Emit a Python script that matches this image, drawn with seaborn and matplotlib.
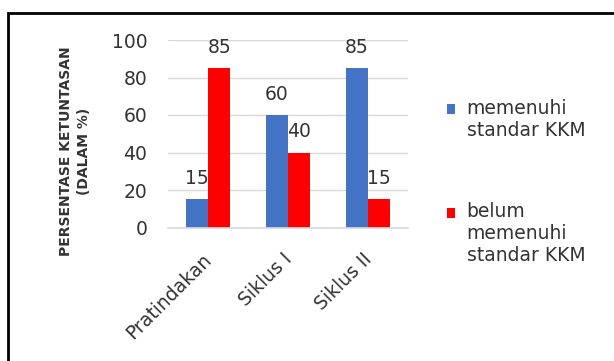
import matplotlib
matplotlib.use("Agg")
import matplotlib.pyplot as plt
import matplotlib.transforms as mtransforms
import seaborn as sns
import pandas as pd
from matplotlib.patches import Rectangle, Patch
from matplotlib.legend_handler import HandlerPatch

categories = ["Pratindakan", "Siklus I", "Siklus II"]
memenuhi = [15, 60, 85]
belum = [85, 40, 15]
series_names = ["memenuhi\nstandar KKM", "belum\nmemenuhi\nstandar KKM"]
colors = ["#4472C4", "#FF0000"]
yticks = [0, 20, 40, 60, 80, 100]

df = pd.DataFrame({
    "kategori": categories * 2,
    "nilai": memenuhi + belum,
    "seri": [series_names[0]] * 3 + [series_names[1]] * 3,
})

sns.set_theme(style="white")
plt.rcParams["font.family"] = ["DejaVu Sans"]
text_color = "#333333"
fs = 13.5

fig = plt.figure(figsize=(6.14, 3.61), dpi=100)
ax = fig.add_axes([168 / 614, 1 - 227.5 / 361, 240 / 614, 187.5 / 361])

sns.barplot(data=df, x="kategori", y="nilai", hue="seri", palette=colors,
            width=0.56, saturation=1, linewidth=0, ax=ax, legend=False)

ax.set_ylim(0, 100)
ax.set_yticks(yticks)
ax.yaxis.grid(True, color="#d9d9d9", linewidth=1.0)
ax.set_axisbelow(True)
for s in ax.spines.values():
    s.set_visible(False)
ax.spines["bottom"].set_visible(True)
ax.spines["bottom"].set_color("#d9d9d9")
ax.tick_params(axis="y", length=0, pad=15, labelsize=fs, labelcolor=text_color)
ax.tick_params(axis="x", length=0, pad=16, labelsize=fs, labelcolor=text_color)
shift = mtransforms.ScaledTranslation(-6 / 100, 0, fig.dpi_scale_trans)
for lab in ax.get_xticklabels():
    lab.set_rotation(45)
    lab.set_ha("right")
    lab.set_rotation_mode("anchor")
    lab.set_transform(lab.get_transform() + shift)
ax.set_xlabel("")
ax.set_ylabel("")

fig.text(75 / 614, 1 - 151 / 361, "PERSENTASE KETUNTASAN\n(DALAM %)",
         rotation=90, ha="center", va="center", multialignment="center",
         fontsize=10, fontweight="bold", color=text_color, linespacing=1.45)

for container in ax.containers:
    ax.bar_label(container, fmt="%g", padding=8, fontsize=fs, color=text_color)


# Legend squares sit beside the first line of each wrapped label
def first_line_square(n_lines):
    line_pitch = 15.8

    def make(legend, orig_handle, xdescent, ydescent, width, height, fontsize):
        dy = 0.5 * (n_lines - 1) * line_pitch
        return Rectangle((-xdescent, -ydescent + dy), width, height)
    return make


handles = [Patch(facecolor=c, edgecolor="none") for c in colors]
handler_map = {
    h: HandlerPatch(patch_func=first_line_square(lbl.count("\n") + 1))
    for h, lbl in zip(handles, series_names)
}
leg = ax.legend(handles, series_names, handler_map=handler_map, loc="upper left",
                bbox_to_anchor=(447 / 614, 1 - 99 / 361),
                bbox_transform=fig.transFigure, borderaxespad=0, borderpad=0,
                frameon=False, fontsize=fs, labelcolor=text_color,
                handlelength=0.45, handleheight=0.45, handletextpad=0.6,
                labelspacing=3.33)

fig.patches.append(Rectangle((8 / 614, -0.1), 1.2, 1 - 13 / 361 + 0.1,
                             transform=fig.transFigure, fill=False,
                             edgecolor="black", linewidth=2))

fig.savefig("out.png", dpi=100)
